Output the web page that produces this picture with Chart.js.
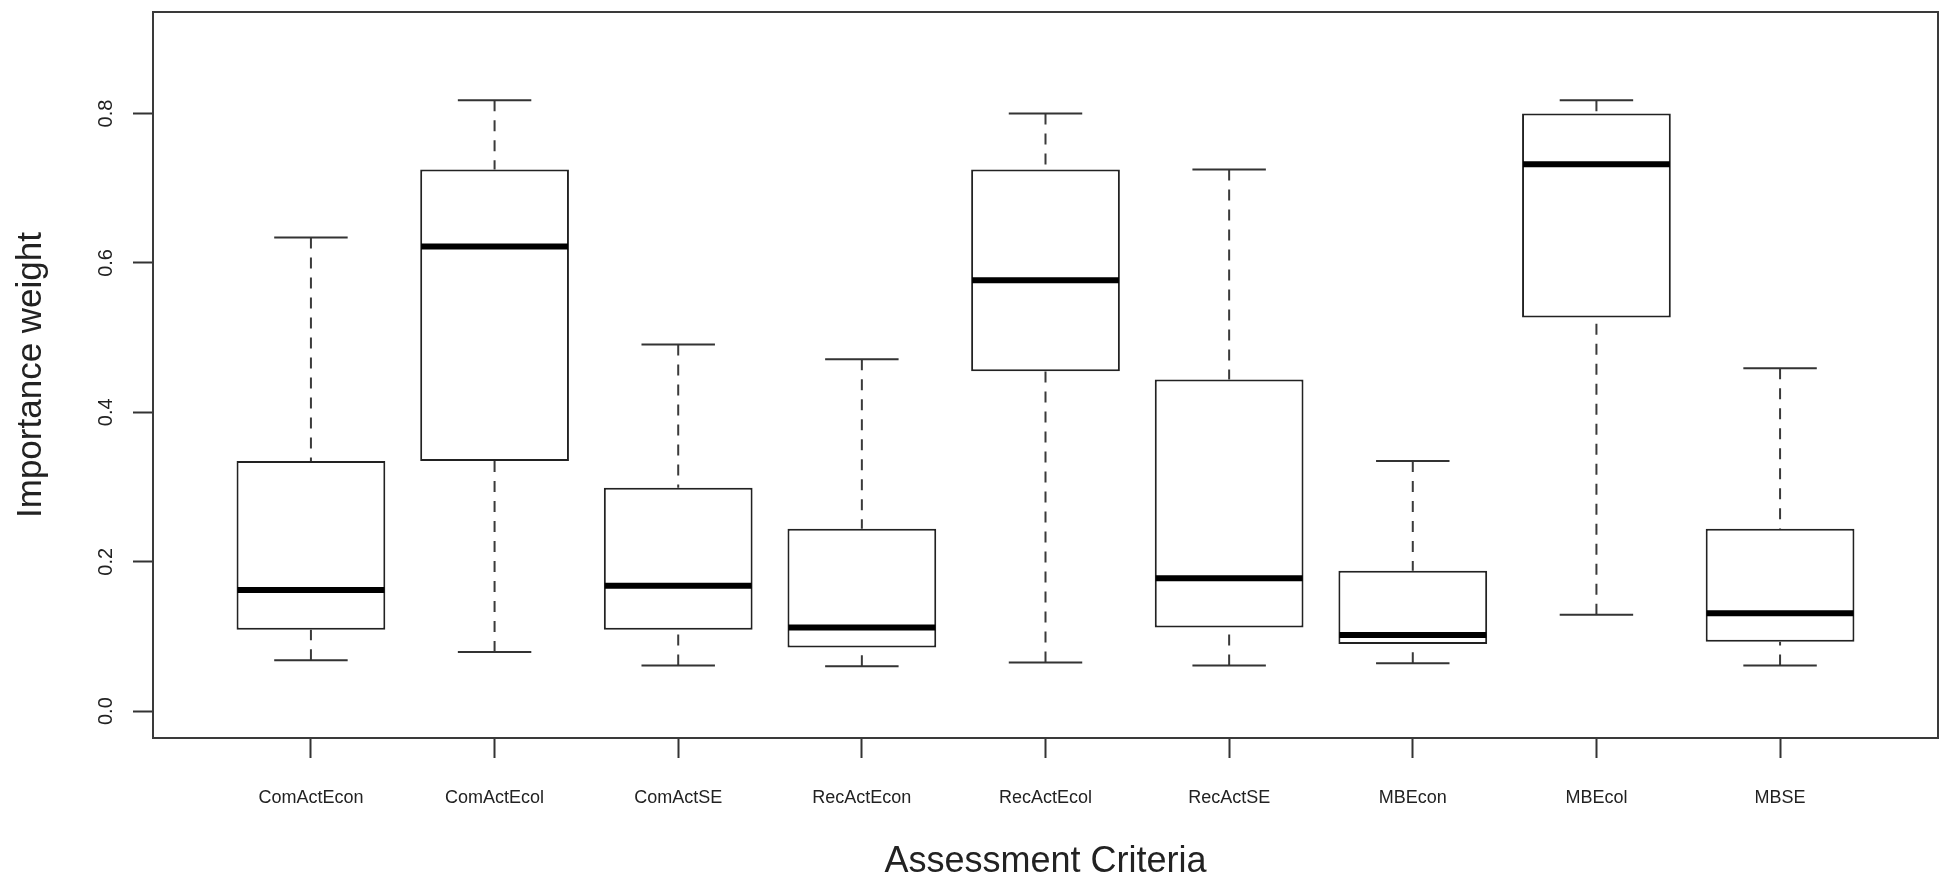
<!DOCTYPE html>
<html>
<head>
<meta charset="utf-8">
<title>Importance weight by assessment criteria</title>
<script src="https://cdn.jsdelivr.net/npm/chart.js@4.4.1/dist/chart.umd.min.js"></script>
<style>
  html, body { margin: 0; padding: 0; background: #fff; }
  #myChart { display: block; }
</style>
</head>
<body>
<canvas id="myChart" width="1948" height="883"></canvas>
<script>
// values
const criteria = ["ComActEcon", "ComActEcol", "ComActSE", "RecActEcon", "RecActEcol", "RecActSE", "MBEcon", "MBEcol", "MBSE"];
const whiskerLow  = [0.068, 0.079, 0.061, 0.060, 0.065, 0.061, 0.064, 0.129, 0.061];
const quartile1   = [0.109, 0.335, 0.109, 0.085, 0.455, 0.112, 0.090, 0.527, 0.093];
const medians     = [0.162, 0.622, 0.168, 0.112, 0.577, 0.178, 0.102, 0.732, 0.131];
const quartile3   = [0.335, 0.725, 0.299, 0.244, 0.725, 0.444, 0.188, 0.800, 0.244];
const whiskerHigh = [0.634, 0.818, 0.491, 0.471, 0.800, 0.725, 0.335, 0.818, 0.459];
const yTicks = [0, 0.2, 0.4, 0.6, 0.8];

Chart.defaults.font.family = "'Liberation Sans', Arial, Helvetica, sans-serif";
Chart.defaults.color = '#222';

// build the pieces of each box
let boxData = [];
let medianData = [];
let whiskerData = [];
let capData = [];
criteria.forEach(function(name, i){
    let x = i + 1;
    boxData.push({x: x, y: [quartile1[i], quartile3[i]]});
    medianData.push({x: x - 0.4, y: medians[i]}, {x: x + 0.4, y: medians[i]}, {x: x, y: null});
    // R draws the whisker from its end towards the box
    whiskerData.push({x: x, y: whiskerHigh[i]}, {x: x, y: quartile3[i]}, {x: x, y: null});
    whiskerData.push({x: x, y: whiskerLow[i]}, {x: x, y: quartile1[i]}, {x: x, y: null});
    capData.push({x: x - 0.2, y: whiskerHigh[i]}, {x: x + 0.2, y: whiskerHigh[i]}, {x: x, y: null});
    capData.push({x: x - 0.2, y: whiskerLow[i]}, {x: x + 0.2, y: whiskerLow[i]}, {x: x, y: null});
});

// box() around the plot region
const framePlugin = {
    id: 'frame',
    afterDatasetsDraw: function(chart){
        const a = chart.chartArea;
        const ctx = chart.ctx;
        ctx.save();
        ctx.strokeStyle = '#3a3a3a';
        ctx.lineWidth = 2;
        ctx.strokeRect(a.left, a.top, a.right - a.left, a.bottom - a.top);
        ctx.restore();
    }
};

// keep the plot region fixed, labels are far from the edges anyway
function noPadding(scale){
    scale.paddingTop = 0;
    scale.paddingBottom = 0;
    scale.paddingLeft = 0;
    scale.paddingRight = 0;
}

const lineStyle = {type: 'line', showLine: true, spanGaps: false, pointRadius: 0, pointHoverRadius: 0, fill: false};

const myChart = document.querySelector('#myChart').getContext('2d');

const chart = new Chart(myChart, {
    type: 'bar',
    data: {
        datasets: [
            Object.assign({}, lineStyle, {
                label: 'Median',
                data: medianData,
                borderColor: '#000',
                borderWidth: 6,
                borderCapStyle: 'butt',
                order: 0
            }),
            Object.assign({}, lineStyle, {
                label: 'Caps',
                data: capData,
                borderColor: '#333',
                borderWidth: 2,
                order: 1
            }),
            Object.assign({}, lineStyle, {
                label: 'Whiskers',
                data: whiskerData,
                borderColor: '#3a3a3a',
                borderWidth: 2,
                borderDash: [11, 9],
                order: 2
            }),
            {
                label: 'IQR',
                data: boxData,
                backgroundColor: '#fff',
                borderColor: '#222',
                borderWidth: 2,
                borderSkipped: false,
                barPercentage: 0.81,
                categoryPercentage: 1,
                order: 3
            }
        ]
    },
    options: {
        responsive: false,
        animation: false,
        devicePixelRatio: 1,
        layout: {padding: {left: 0, right: 10, top: 12, bottom: 0}},
        plugins: {
            legend: {display: false},
            tooltip: {enabled: false}
        },
        scales: {
            x: {
                type: 'linear',
                min: 0.14,
                max: 9.86,
                offset: false,
                afterBuildTicks: function(scale){
                    scale.ticks = criteria.map(function(c, i){ return {value: i + 1}; });
                },
                afterFit: function(scale){
                    scale.height = 145;
                    noPadding(scale);
                },
                grid: {offset: false, drawOnChartArea: false, drawTicks: true, tickLength: 20, tickWidth: 2, tickColor: '#333'},
                border: {display: false},
                ticks: {
                    autoSkip: false,
                    minRotation: 0,
                    maxRotation: 0,
                    padding: 31,
                    font: {size: 18, lineHeight: 1},
                    color: '#222',
                    callback: function(value){ return criteria[Math.round(value) - 1]; }
                },
                title: {
                    display: true,
                    text: 'Assessment Criteria',
                    font: {size: 36, lineHeight: 1},
                    padding: {top: 0, bottom: 3},
                    color: '#222'
                }
            },
            y: {
                type: 'linear',
                min: -0.036,
                max: 0.936,
                afterBuildTicks: function(scale){
                    scale.ticks = yTicks.map(function(v){ return {value: v}; });
                },
                afterFit: function(scale){
                    scale.width = 153;
                    noPadding(scale);
                },
                grid: {drawOnChartArea: false, drawTicks: true, tickLength: 20, tickWidth: 2, tickColor: '#333'},
                border: {display: false},
                ticks: {
                    minRotation: 90,
                    maxRotation: 90,
                    crossAlign: 'center',
                    padding: 13,
                    font: {size: 20, lineHeight: 1},
                    color: '#222',
                    callback: function(value){ return value.toFixed(1); }
                },
                title: {
                    display: true,
                    text: 'Importance weight',
                    font: {size: 35, lineHeight: 1},
                    padding: {top: 14, bottom: 0},
                    color: '#222'
                }
            }
        }
    },
    plugins: [framePlugin]
});
</script>
</body>
</html>
